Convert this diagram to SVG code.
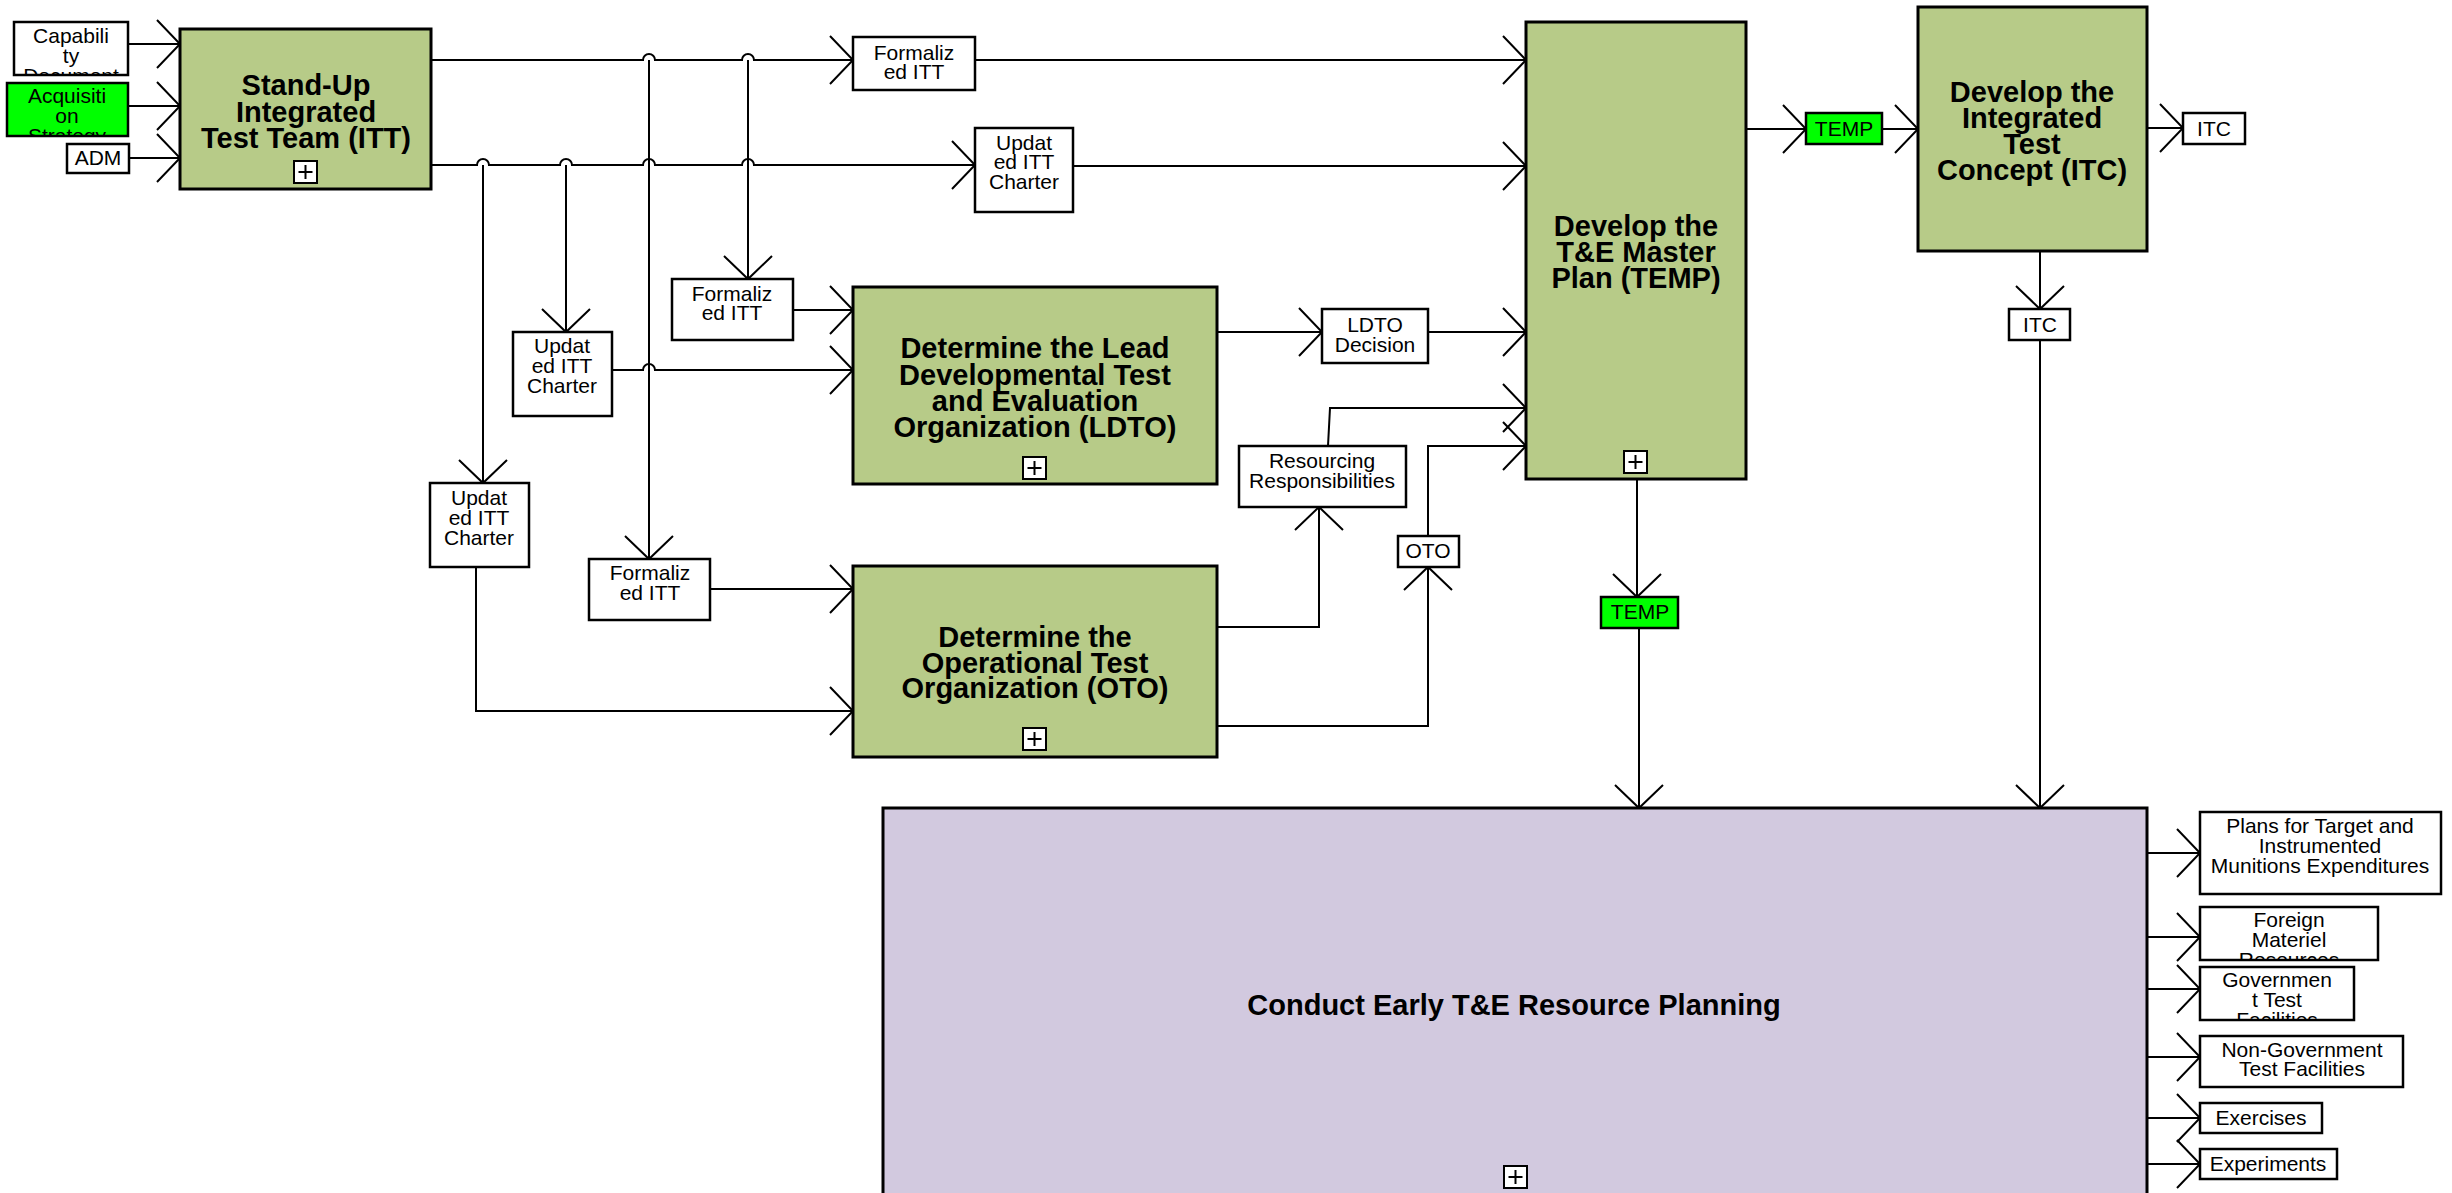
<svg xmlns="http://www.w3.org/2000/svg" width="2452" height="1193" viewBox="0 0 2452 1193">
<style>
.node{fill:#b7cb88;stroke:#000;stroke-width:3}
.big{fill:#d2c9df;stroke:#000;stroke-width:3}
.lbl{fill:#fff;stroke:#000;stroke-width:2.5}
.glbl{fill:#00ff00;stroke:#000;stroke-width:2.5}
.t{font-family:"Liberation Sans",Arial,sans-serif;font-weight:bold;font-size:29px;text-anchor:middle;fill:#000}
.l{font-family:"Liberation Sans",Arial,sans-serif;font-size:21px;text-anchor:middle;fill:#000}
.plus{fill:#fff;stroke:#000;stroke-width:2}
.pl{stroke:#000;stroke-width:2}
.c{fill:none;stroke:#000;stroke-width:2;marker-end:url(#ah)}
.cn{fill:none;stroke:#000;stroke-width:2}
</style>
<defs>
<marker id="ah" markerUnits="userSpaceOnUse" markerWidth="30" markerHeight="54" viewBox="-27 -27 30 54" refX="0" refY="0" orient="auto"><path d="M-23,-24 L0,0 L-23,24" fill="none" stroke="#000" stroke-width="2"/></marker>
<g id="pg"><rect class="plus" x="0" y="0" width="23" height="22"/><line class="pl" x1="11.5" y1="4" x2="11.5" y2="18"/><line class="pl" x1="4.5" y1="11" x2="18.5" y2="11"/></g>
<clipPath id="cpCap"><rect x="14" y="22" width="114" height="53"/></clipPath>
<clipPath id="cpAcq"><rect x="7" y="83" width="121" height="53"/></clipPath>
<clipPath id="cpFor"><rect x="2200" y="907" width="178" height="53"/></clipPath>
<clipPath id="cpGov"><rect x="2200" y="967" width="154" height="53"/></clipPath>
</defs>
<rect width="2452" height="1193" fill="#fff"/>

<g id="connectors">
<path class="c" d="M128,44 H180"/>
<path class="c" d="M128,106 H180"/>
<path class="c" d="M129,158 H180"/>
<path class="c" d="M431,60 H643 A6,6 0 0 1 655,60 H742 A6,6 0 0 1 754,60 H853"/>
<path class="c" d="M975,60 H1526"/>
<path class="c" d="M431,165 H477 A6,6 0 0 1 489,165 H560 A6,6 0 0 1 572,165 H643 A6,6 0 0 1 655,165 H742 A6,6 0 0 1 754,165 H975"/>
<path class="c" d="M1073,166 H1526"/>
<path class="c" d="M483,165 V483"/>
<path class="c" d="M566,165 V332"/>
<path class="c" d="M649,60 V559"/>
<path class="c" d="M748,60 V279"/>
<path class="c" d="M793,310 H853"/>
<path class="c" d="M612,370 H643 A6,6 0 0 1 655,370 H853"/>
<path class="c" d="M710,589 H853"/>
<path class="c" d="M476,567 V711 H853"/>
<path class="c" d="M1217,332 H1322"/>
<path class="c" d="M1428,332 H1526"/>
<path class="c" d="M1217,627 H1319 V507"/>
<path class="c" d="M1328,446 L1330,408 H1526"/>
<path class="c" d="M1217,726 H1428 V567"/>
<path class="c" d="M1428,536 V446 H1526"/>
<path class="c" d="M1746,129 H1806"/>
<path class="c" d="M1882,129 H1918"/>
<path class="c" d="M2147,128 H2183"/>
<path class="c" d="M2040,251 V309"/>
<path class="c" d="M2040,340 V808"/>
<path class="c" d="M1637,479 V597"/>
<path class="c" d="M1639,628 V808"/>
<path class="c" d="M2147,853 H2200"/>
<path class="c" d="M2147,937 H2200"/>
<path class="c" d="M2147,989 H2200"/>
<path class="c" d="M2147,1057 H2200"/>
<path class="c" d="M2147,1118 H2200"/>
<path class="c" d="M2147,1164 H2200"/>
</g>

<g id="n-capdoc"><rect class="lbl" x="14" y="22" width="114" height="53"/><text class="l" clip-path="url(#cpCap)" x="71"><tspan x="71" y="43">Capabili</tspan><tspan x="71" y="63">ty</tspan><tspan x="71" y="83">Document</tspan></text></g>
<g id="n-acq"><rect class="glbl" x="7" y="83" width="121" height="53"/><text class="l" clip-path="url(#cpAcq)"><tspan x="67" y="103">Acquisiti</tspan><tspan x="67" y="123">on</tspan><tspan x="67" y="143">Strategy</tspan></text></g>
<g id="n-adm"><rect class="lbl" x="67" y="144" width="62" height="29"/><text class="l" x="98" y="165">ADM</text></g>

<g id="n-itt"><rect class="node" x="180" y="29" width="251" height="160"/><text class="t"><tspan x="306" y="95">Stand-Up</tspan><tspan x="306" y="122">Integrated</tspan><tspan x="306" y="148">Test Team (ITT)</tspan></text><use href="#pg" x="294" y="161"/></g>

<g id="n-form1"><rect class="lbl" x="853" y="37" width="122" height="53"/><text class="l"><tspan x="914" y="60">Formaliz</tspan><tspan x="914" y="79">ed ITT</tspan></text></g>
<g id="n-upd1"><rect class="lbl" x="975" y="128" width="98" height="84"/><text class="l"><tspan x="1024" y="150">Updat</tspan><tspan x="1024" y="169">ed ITT</tspan><tspan x="1024" y="189">Charter</tspan></text></g>
<g id="n-form2"><rect class="lbl" x="672" y="279" width="121" height="61"/><text class="l"><tspan x="732" y="301">Formaliz</tspan><tspan x="732" y="320">ed ITT</tspan></text></g>
<g id="n-upd2"><rect class="lbl" x="513" y="332" width="99" height="84"/><text class="l"><tspan x="562" y="353">Updat</tspan><tspan x="562" y="373">ed ITT</tspan><tspan x="562" y="393">Charter</tspan></text></g>
<g id="n-upd3"><rect class="lbl" x="430" y="483" width="99" height="84"/><text class="l"><tspan x="479" y="505">Updat</tspan><tspan x="479" y="525">ed ITT</tspan><tspan x="479" y="545">Charter</tspan></text></g>
<g id="n-form3"><rect class="lbl" x="589" y="559" width="121" height="61"/><text class="l"><tspan x="650" y="580">Formaliz</tspan><tspan x="650" y="600">ed ITT</tspan></text></g>

<g id="n-ldto"><rect class="node" x="853" y="287" width="364" height="197"/><text class="t"><tspan x="1035" y="358">Determine the Lead</tspan><tspan x="1035" y="385">Developmental Test</tspan><tspan x="1035" y="411">and Evaluation</tspan><tspan x="1035" y="437">Organization (LDTO)</tspan></text><use href="#pg" x="1023" y="457"/></g>
<g id="n-oto"><rect class="node" x="853" y="566" width="364" height="191"/><text class="t"><tspan x="1035" y="647">Determine the</tspan><tspan x="1035" y="673">Operational Test</tspan><tspan x="1035" y="698">Organization (OTO)</tspan></text><use href="#pg" x="1023" y="728"/></g>

<g id="n-ldtodec"><rect class="lbl" x="1322" y="309" width="106" height="54"/><text class="l"><tspan x="1375" y="332">LDTO</tspan><tspan x="1375" y="352">Decision</tspan></text></g>
<g id="n-resp"><rect class="lbl" x="1239" y="446" width="167" height="61"/><text class="l"><tspan x="1322" y="468">Resourcing</tspan><tspan x="1322" y="488">Responsibilities</tspan></text></g>
<g id="n-otol"><rect class="lbl" x="1398" y="536" width="61" height="31"/><text class="l" x="1428" y="558">OTO</text></g>

<g id="n-temp"><rect class="node" x="1526" y="22" width="220" height="457"/><text class="t"><tspan x="1636" y="236">Develop the</tspan><tspan x="1636" y="262">T&amp;E Master</tspan><tspan x="1636" y="288">Plan (TEMP)</tspan></text><use href="#pg" x="1624" y="451"/></g>
<g id="n-templ1"><rect class="glbl" x="1806" y="113" width="76" height="31"/><text class="l" x="1844" y="136">TEMP</text></g>
<g id="n-templ2"><rect class="glbl" x="1601" y="597" width="77" height="31"/><text class="l" x="1640" y="619">TEMP</text></g>

<g id="n-itc"><rect class="node" x="1918" y="7" width="229" height="244"/><text class="t"><tspan x="2032" y="102">Develop the</tspan><tspan x="2032" y="128">Integrated</tspan><tspan x="2032" y="154">Test</tspan><tspan x="2032" y="180">Concept (ITC)</tspan></text></g>
<g id="n-itcl1"><rect class="lbl" x="2183" y="113" width="62" height="31"/><text class="l" x="2214" y="136">ITC</text></g>
<g id="n-itcl2"><rect class="lbl" x="2009" y="309" width="61" height="31"/><text class="l" x="2040" y="332">ITC</text></g>

<g id="n-conduct"><rect class="big" x="883" y="808" width="1264" height="400"/><text class="t" x="1514" y="1015">Conduct Early T&amp;E Resource Planning</text><use href="#pg" x="1504" y="1166"/></g>

<g id="n-plans"><rect class="lbl" x="2200" y="812" width="241" height="82"/><text class="l"><tspan x="2320" y="833">Plans for Target and</tspan><tspan x="2320" y="853">Instrumented</tspan><tspan x="2320" y="873">Munitions Expenditures</tspan></text></g>
<g id="n-foreign"><rect class="lbl" x="2200" y="907" width="178" height="53"/><text class="l" clip-path="url(#cpFor)"><tspan x="2289" y="927">Foreign</tspan><tspan x="2289" y="947">Materiel</tspan><tspan x="2289" y="967">Resources</tspan></text></g>
<g id="n-gov"><rect class="lbl" x="2200" y="967" width="154" height="53"/><text class="l" clip-path="url(#cpGov)"><tspan x="2277" y="987">Governmen</tspan><tspan x="2277" y="1007">t Test</tspan><tspan x="2277" y="1027">Facilities</tspan></text></g>
<g id="n-nongov"><rect class="lbl" x="2200" y="1036" width="203" height="51"/><text class="l"><tspan x="2302" y="1057">Non-Government</tspan><tspan x="2302" y="1076">Test Facilities</tspan></text></g>
<g id="n-exer"><rect class="lbl" x="2200" y="1103" width="122" height="30"/><text class="l" x="2261" y="1125">Exercises</text></g>
<g id="n-expt"><rect class="lbl" x="2200" y="1149" width="137" height="30"/><text class="l" x="2268" y="1171">Experiments</text></g>
</svg>
